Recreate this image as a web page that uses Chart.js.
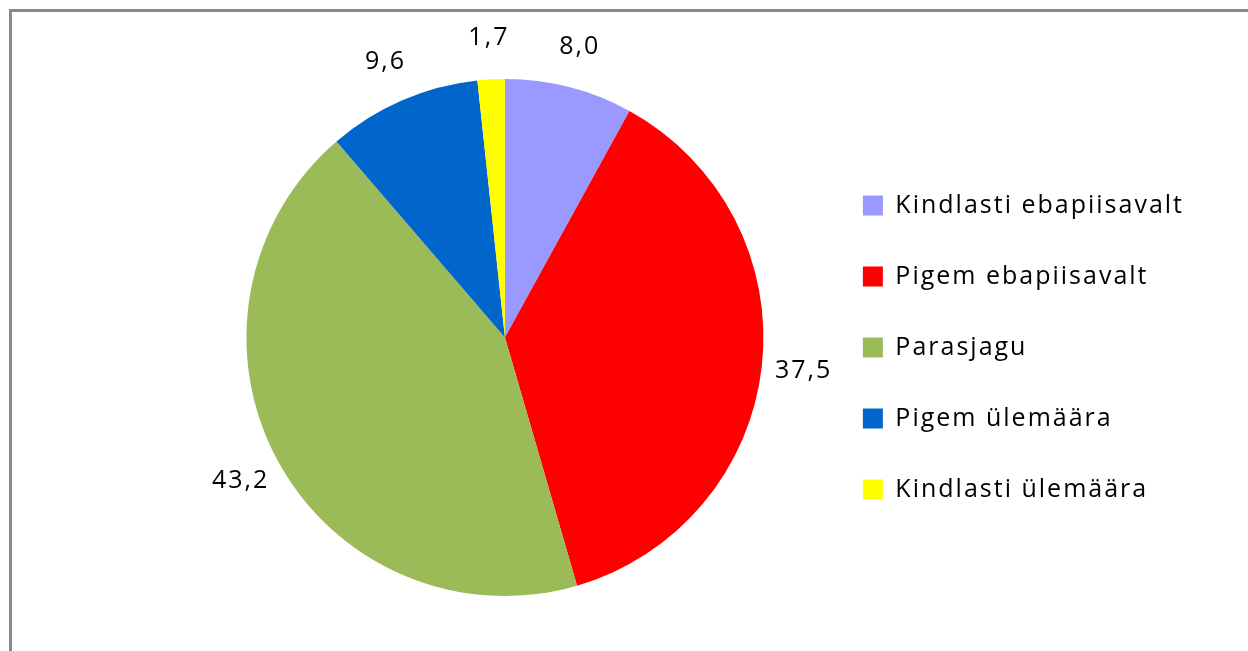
<!DOCTYPE html>
<html>
<head>
<meta charset="utf-8">
<script src="https://cdn.jsdelivr.net/npm/chart.js@4.4.0/dist/chart.umd.min.js"></script>
<style>
html, body { margin: 0; padding: 0; background: #fff; overflow: hidden; }
#frame { position: absolute; left: 9px; top: 9px; width: 1260px; height: 660px; border-left: 3px solid #888; border-top: 3px solid #888; }
#wrap { position: absolute; left: 0; top: 0; width: 1248px; height: 651px; }
</style>
</head>
<body>
<div id="frame"></div>
<div id="wrap"><canvas id="myChart"></canvas></div>
<script>
// data
var categories = ["Kindlasti ebapiisavalt", "Pigem ebapiisavalt", "Parasjagu", "Pigem ülemäära", "Kindlasti ülemäära"];
var values = [8.0, 37.5, 43.2, 9.6, 1.7];
var sliceColors = ["#9999FF", "#FF0000", "#9BBB59", "#0066CC", "#FFFF00"];

// the original font is loosely spaced, widen a bit
var spacing = {
  id: "spacing",
  beforeLayout: function(chart) { chart.ctx.letterSpacing = "2px"; },
  beforeDraw: function(chart) { chart.ctx.letterSpacing = "2px"; }
};

// value labels outside the slices, comma decimals
var valueLabels = {
  id: "valueLabels",
  afterDatasetsDraw: function(chart) {
    var ctx = chart.ctx;
    var meta = chart.getDatasetMeta(0);
    ctx.save();
    ctx.font = "25px 'Open Sans'";
    ctx.fillStyle = "#000";
    ctx.textAlign = "center";
    ctx.textBaseline = "middle";
    meta.data.forEach(function(arc, i) {
      var p = arc.getProps(["x", "y", "startAngle", "endAngle", "outerRadius"], true);
      var mid = (p.startAngle + p.endAngle) / 2;
      var r = p.outerRadius + 42;
      ctx.fillText(values[i].toFixed(1).replace(".", ","), p.x + Math.cos(mid) * r, p.y + Math.sin(mid) * r);
    });
    ctx.restore();
  }
};

new Chart("myChart", {
  type: "pie",
  data: {
    labels: categories,
    datasets: [{
      data: values,
      backgroundColor: sliceColors,
      borderWidth: 0
    }]
  },
  options: {
    responsive: true,
    maintainAspectRatio: false,
    animation: false,
    layout: { padding: { top: 79, bottom: 55, left: 193, right: 54 } },
    plugins: {
      tooltip: { enabled: false },
      legend: {
        position: "right",
        title: { display: true, text: " ", font: { size: 10 }, padding: { top: 4, bottom: 4 } },
        labels: {
          boxWidth: 20,
          boxHeight: 20,
          padding: 46,
          color: "#000",
          font: { family: "Open Sans", size: 25 }
        }
      }
    }
  },
  plugins: [spacing, valueLabels]
});
</script>
</body>
</html>
